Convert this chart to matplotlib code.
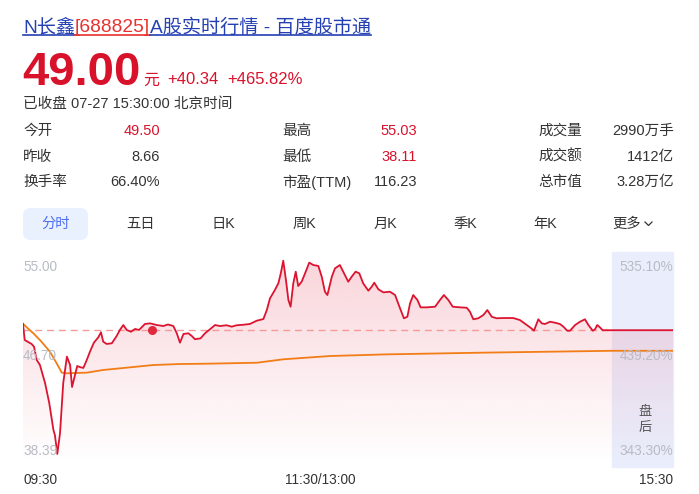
import numpy as np
import matplotlib.pyplot as plt
from matplotlib.patches import Polygon, FancyBboxPatch
from matplotlib.transforms import IdentityTransform

plt.rcParams['font.family'] = ['Liberation Sans', 'Noto Sans CJK SC', 'DejaVu Sans']

# ---- data ----
stock_name = "N长鑫"
stock_code = "688825"
last_price = "49.00"
change = "+40.34"
change_pct = "+465.82%"
status = "已收盘 07-27 15:30:00 北京时间"

stat_labels = [["今开", "昨收", "换手率"], ["最高", "最低", "市盈(TTM)"], ["成交量", "成交额", "总市值"]]
stat_values = [["49.50", "8.66", "66.40%"], ["55.03", "38.11", "116.23"], ["2990万手", "1412亿", "3.28万亿"]]
stat_red = [[True, False, False], [True, True, False], [False, False, False]]

tabs = ["分时", "五日", "日K", "周K", "月K", "季K", "年K", "更多"]

# minutes since 09:30 (trading 0-240, after-hours 240-265)
price_min = [0, 0.7, 3.5, 4.5, 5.6, 6.9, 9.0, 10.7, 12.4, 13.0, 14.0, 15.1, 16.4, 17.9, 19.2, 20.0,
             21.2, 22.1, 23.2, 24.6, 26.0, 27.3, 28.9, 30.7, 31.8, 32.7, 34.1, 36.2, 38.2, 39.5,
             40.9, 42.3, 44.0, 45.7, 47.3, 49.7, 51.8, 54.5, 57.2, 59.1, 61.3, 62.7, 64.0, 65.4,
             67.4, 68.8, 70.1, 72.4, 74.2, 76.2, 78.3, 80.3, 83.0, 85.1, 87.1, 89.8, 92.5, 95.3,
             98.0, 99.4, 100.7, 102.7, 104.1, 105.1, 106.1, 107.2, 108.2, 109.1, 110.2, 111.2,
             112.2, 113.6, 115.0, 116.7, 118.4, 120.4, 121.8, 123.1, 124.1, 125.9, 127.2, 129.2,
             130.9, 132.6, 134.0, 135.6, 137.1, 138.7, 140.8, 142.2, 143.2, 144.9, 146.9, 149.6,
             151.7, 153.7, 155.3, 156.7, 157.8, 159.1, 160.8, 162.1, 164.6, 168.0, 170.0, 171.6,
             173.4, 175.2, 178.2, 180.9, 182.2, 183.6, 185.6, 187.7, 189.3, 191.1, 193.1, 195.8,
             199.9, 202.6, 205.4, 207.1, 208.3, 210.1, 211.5, 212.8, 214.9, 216.9, 218.9, 220.3,
             221.9, 223.0, 225.1, 227.1, 229.1, 230.5, 232.3, 233.2, 234.1, 235.2, 236.3, 240, 265]
price = [49.50, 48.23, 47.92, 47.70, 46.66, 46.26, 44.84, 43.27, 41.15, 40.75, 39.26, 40.91, 44.84,
         46.92, 46.26, 44.53, 45.47, 46.18, 46.10, 46.03, 46.66, 47.31, 48.02, 48.44, 48.84, 48.10,
         47.92, 47.97, 48.55, 49.02, 49.41, 49.02, 48.88, 49.10, 49.02, 49.49, 49.54, 49.41, 49.33,
         49.45, 49.33, 48.76, 48.02, 48.70, 48.76, 48.55, 48.29, 48.36, 48.76, 49.07, 49.41, 49.33,
         49.39, 49.28, 49.39, 49.43, 49.49, 49.75, 49.88, 50.59, 51.51, 52.17, 52.69, 53.48, 54.47,
         52.95, 51.38, 50.85, 52.69, 53.61, 52.48, 52.82, 53.48, 54.32, 54.13, 54.06, 53.21, 52.03,
         51.77, 53.21, 53.87, 54.13, 53.48, 52.82, 53.21, 53.61, 53.48, 52.69, 52.11, 52.43, 52.74,
         52.22, 51.98, 52.03, 51.77, 50.73, 49.94, 50.06, 51.12, 51.77, 51.38, 50.80, 50.80, 50.85,
         51.38, 51.77, 51.38, 50.85, 50.80, 50.77, 50.46, 49.86, 49.94, 50.20, 50.59, 50.06, 49.94,
         49.96, 49.96, 49.80, 49.41, 49.17, 48.96, 49.86, 49.54, 49.49, 49.67, 49.59, 49.49, 49.28,
         48.96, 48.96, 49.41, 49.67, 49.86, 49.41, 48.96, 49.07, 49.41, 49.23, 49.00, 49.00, 49.00]

avg_min = [0, 4.2, 6.9, 11.0, 13.7, 15.8, 17.8, 26.0, 32.7, 39.5, 46.4, 53.1, 64.0, 73.5, 95.3,
           106.1, 125.2, 148.3, 186.3, 240, 265]
avg_price = [49.50, 48.76, 48.23, 47.31, 46.40, 45.66, 45.61, 45.66, 45.87, 46.00, 46.13, 46.26,
             46.34, 46.36, 46.44, 46.71, 46.97, 47.10, 47.23, 47.38, 47.38]

ref_price = 49.00
dot_min, dot_price = 52.6, 49.00
y_low, y_mid, y_high = 38.39, 46.70, 55.00
pct_labels = ["535.10%", "439.20%", "343.30%"]
x_labels = ["09:30", "11:30/13:00", "15:30"]

# ---- figure ----
W, H = 699, 494
fig = plt.figure(figsize=(W / 100, H / 100), dpi=100)
renderer = fig.canvas.get_renderer()


def fx(x):
    return x / W


def fy(y):
    return 1 - y / H


RED = '#d9122c'
BLUE = '#2440b3'
DARK = '#333333'

# title with underline, pieces chained one after another
x = 23
for s, c in [(stock_name, BLUE), ("[" + stock_code + "]", '#e8312f'), ("A股实时行情 - 百度股市通", BLUE)]:
    t = fig.text(fx(x), fy(32.5), s, color=c, fontsize=13.8, va='baseline')
    w = t.get_window_extent(renderer).width
    fig.add_artist(plt.Line2D([fx(x), fx(x + w)], [fy(35), fy(35)], color=c, lw=1.2))
    x += w

t = fig.text(fx(22), fy(85), last_price, color=RED, fontsize=34, fontweight='bold', va='baseline')
x = 22 + t.get_window_extent(renderer).width + 3
fig.text(fx(x), fy(85), "元", color=RED, fontsize=11.5, va='baseline')
fig.text(fx(167), fy(84), change, color=RED, fontsize=12, va='baseline')
fig.text(fx(227), fy(84), change_pct, color=RED, fontsize=12, va='baseline')
fig.text(fx(23), fy(103.5), status, color=DARK, fontsize=10.5, va='center')

# stats grid
col_label_x = [23, 282, 538]
col_value_x = [160, 417, 674]
row_y = [131, 157, 182]
for ci in range(3):
    for ri in range(3):
        fig.text(fx(col_label_x[ci]), fy(row_y[ri]), stat_labels[ci][ri], color=DARK,
                 fontsize=10.5, va='center')
        fig.text(fx(col_value_x[ci]), fy(row_y[ri]), stat_values[ci][ri],
                 color=RED if stat_red[ci][ri] else DARK, fontsize=10.5, va='center', ha='right')

# tabs
tab_x = [56, 140, 223, 304, 385, 465, 545, 627]
box = FancyBboxPatch((23, H - 240), 65, 32, boxstyle='round,pad=0,rounding_size=8',
                     transform=IdentityTransform(), facecolor='#e9f0fe', edgecolor='none')
fig.add_artist(box)
for i, s in enumerate(tabs):
    fig.text(fx(tab_x[i]), fy(224), s, color='#4e6ef2' if i == 0 else DARK, fontsize=10.3,
             ha='center', va='center')
fig.add_artist(plt.Line2D([fx(645), fx(648.5), fx(652)], [fy(222), fy(225.5), fy(222)],
                          color=DARK, lw=0.9))

# ---- chart ----
ax = fig.add_axes([fx(23), fy(465), fx(673) - fx(23), (465 - 254) / H])
ax.set_xlim(0, 265)
ax.set_ylim(y_low, y_high)
ax.axis('off')

ax.axvspan(240, 265, ymin=-0.01, ymax=1.01, color='#eaeefc', zorder=0, clip_on=False)

grad = np.zeros((256, 1, 4))
grad[:, 0, 0] = 226 / 255
grad[:, 0, 1] = 40 / 255
grad[:, 0, 2] = 70 / 255
grad[:, 0, 3] = np.linspace(0.2, 0.0, 256)
im = ax.imshow(grad, extent=[0, 265, y_low, y_high], aspect='auto', origin='upper', zorder=1)
verts = list(zip(price_min, price)) + [(265, y_low), (0, y_low)]
clip = Polygon(verts, closed=True, transform=ax.transData, facecolor='none', edgecolor='none')
ax.add_patch(clip)
im.set_clip_path(clip)

ax.plot([0, 240], [ref_price, ref_price], color='#f59a9a', lw=1.0, ls=(0, (5, 3.5)), zorder=2)
ax.plot(avg_min, avg_price, color='#f27d16', lw=1.3, zorder=3)
ax.plot(price_min, price, color='#dc1430', lw=1.3, zorder=4)
ax.plot([dot_min], [dot_price], 'o', color='#e0283c', markersize=5.5, zorder=5)

# axis texts
GRAY = '#b8bcc4'
for lab, pct, yy in zip([y_high, y_mid, y_low], pct_labels, [267, 356.5, 451]):
    fig.text(fx(23), fy(yy), "%.2f" % lab, color=GRAY, fontsize=9.8, va='center')
    fig.text(fx(673), fy(yy), pct, color=GRAY, fontsize=9.8, va='center', ha='right')
fig.text(fx(645), fy(412), "盘", color='#555555', fontsize=9.5, va='center', ha='center')
fig.text(fx(645), fy(428), "后", color='#555555', fontsize=9.5, va='center', ha='center')

fig.text(fx(23), fy(480), x_labels[0], color=DARK, fontsize=9.8, va='center')
fig.text(fx(320), fy(480), x_labels[1], color=DARK, fontsize=9.8, va='center', ha='center')
fig.text(fx(673), fy(480), x_labels[2], color=DARK, fontsize=9.8, va='center', ha='right')

fig.savefig('out.png', dpi=100)
